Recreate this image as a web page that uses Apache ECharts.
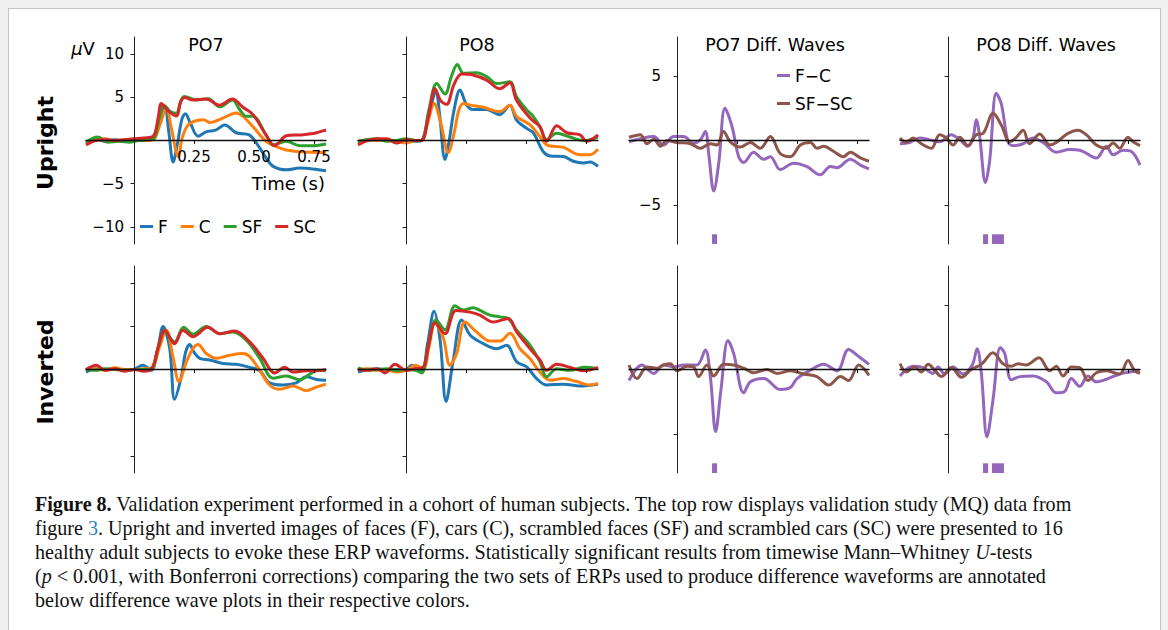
<!DOCTYPE html>
<html><head><meta charset="utf-8">
<script src="https://cdn.jsdelivr.net/npm/echarts@6/dist/echarts.min.js"></script>
<style>
html,body{margin:0;padding:0;background:#f0f0f0;}
body{width:1168px;height:630px;overflow:hidden;position:relative;}
#frame{position:absolute;left:8px;top:8px;width:1151px;height:640px;background:#fff;border:1px solid #c4c4c4;}
#chart{position:absolute;left:0;top:0;width:1168px;height:630px;}
</style></head><body>
<div id="frame"></div><div id="chart"></div>
<script>
// ---------- tick labels / names ----------
const TIME_TICKS = [0.25, 0.5, 0.75];
const ERP_TICKS = [-10, -5, 5, 10];
const DIFF_TICKS = [-5, 5];
const ERP_NAMES = ['F', 'C', 'SF', 'SC'];
const DIFF_NAMES = ['F−C', 'SF−SC'];
const PANEL_TITLES = ['PO7', 'PO8', 'PO7 Diff. Waves', 'PO8 Diff. Waves'];
const ROW_TITLES = ['Upright', 'Inverted'];

// ---------- data: [time (s), amplitude (µV)] ----------
// PO7 upright
const po7UpF = [[-0.2,-0.3],[-0.16,0.2],[-0.12,-0.1],[-0.08,0.1],[-0.04,-0.1],[0,0.1],[0.04,0],[0.08,0.2],[0.105,2.2],[0.128,4.0],[0.145,1.0],[0.163,-2.5],[0.18,-0.5],[0.2,2.5],[0.214,3.1],[0.235,2.0],[0.267,0.5],[0.3,1.0],[0.34,1.2],[0.378,1.8],[0.426,0.9],[0.48,0.65],[0.52,-0.7],[0.55,-2.0],[0.58,-3.0],[0.635,-3.4],[0.69,-3.2],[0.746,-3.3],[0.8,-3.5]];
const po7UpC = [[-0.2,-0.3],[-0.16,0.1],[-0.12,0.2],[-0.08,-0.1],[-0.04,0.1],[0,0],[0.04,0],[0.08,0.1],[0.11,2.0],[0.135,3.85],[0.155,1.5],[0.185,-1.85],[0.2,0.2],[0.22,1.6],[0.246,2.2],[0.29,2.4],[0.315,2.1],[0.37,2.6],[0.426,3.2],[0.454,2.8],[0.496,1.6],[0.55,-0.1],[0.593,-0.7],[0.635,-1.1],[0.69,-1.3],[0.8,-1.4]];
const po7UpSF = [[-0.2,-0.2],[-0.15,0.4],[-0.11,-0.2],[-0.06,-0.1],[-0.02,-0.2],[0.02,0],[0.06,0.1],[0.085,0.3],[0.105,2.5],[0.124,4.1],[0.15,3.4],[0.176,3.15],[0.195,4.6],[0.21,5.1],[0.26,4.7],[0.31,4.85],[0.357,3.9],[0.41,4.7],[0.44,3.6],[0.468,2.8],[0.496,2.8],[0.55,0.65],[0.58,-0.5],[0.635,-0.1],[0.69,-0.6],[0.746,-0.6],[0.8,-0.4]];
const po7UpSC = [[-0.2,-0.5],[-0.16,0],[-0.12,0.1],[-0.08,0],[-0.04,0.1],[0,0.2],[0.04,0.3],[0.08,0.5],[0.1,2.5],[0.114,4.3],[0.14,3.5],[0.176,2.85],[0.195,4.5],[0.21,5.0],[0.246,4.7],[0.3,4.8],[0.357,4.1],[0.41,4.8],[0.454,3.85],[0.496,3.0],[0.55,0.65],[0.586,-0.6],[0.635,0.55],[0.69,0.65],[0.746,0.8],[0.79,1.15],[0.8,1.2]];
// PO8 upright
const po8UpF = [[-0.2,-0.2],[-0.16,0.1],[-0.12,0],[-0.08,0.1],[-0.04,-0.1],[0,0],[0.04,-0.1],[0.065,0],[0.095,3.0],[0.125,5.65],[0.14,3.0],[0.1625,-2.2],[0.18,0],[0.2,3.5],[0.225,5.85],[0.253,4.1],[0.28,3.6],[0.336,3.6],[0.39,3.0],[0.433,4.1],[0.46,2.4],[0.503,1.4],[0.53,0.9],[0.572,-1.3],[0.6,-1.8],[0.656,-1.85],[0.697,-2.4],[0.74,-2.6],[0.767,-2.5],[0.8,-3.0]];
const po8UpC = [[-0.2,-0.1],[-0.16,0.1],[-0.12,0],[-0.08,0.1],[-0.04,-0.1],[0,-0.3],[0.04,0],[0.065,0],[0.09,2.0],[0.117,4.3],[0.145,2.0],[0.176,-1.4],[0.2,0.8],[0.22,3.5],[0.239,4.3],[0.267,4.1],[0.322,3.85],[0.39,3.35],[0.433,4.1],[0.46,2.8],[0.517,1.8],[0.558,0.45],[0.586,-0.5],[0.656,-0.8],[0.725,-1.65],[0.767,-1.65],[0.8,-1.0]];
const po8UpSF = [[-0.2,-0.1],[-0.16,0.1],[-0.12,0.2],[-0.08,-0.1],[-0.04,0],[0,0.2],[0.04,0],[0.065,0],[0.095,3.5],[0.128,6.6],[0.1625,5.4],[0.19,7.5],[0.214,8.8],[0.239,7.8],[0.294,7.85],[0.336,7.4],[0.378,6.6],[0.433,6.8],[0.46,5.1],[0.503,3.55],[0.53,2.8],[0.558,1.6],[0.586,0.1],[0.628,0.85],[0.683,0.4],[0.74,0],[0.8,0.4]];
const po8UpSC = [[-0.2,-0.5],[-0.16,0],[-0.12,0.2],[-0.08,0.2],[-0.04,-0.3],[0,0.1],[0.04,0],[0.065,0],[0.095,3.0],[0.121,6.0],[0.145,4.6],[0.169,4.2],[0.2,6.5],[0.232,7.7],[0.28,7.6],[0.336,7.0],[0.39,6.0],[0.433,6.7],[0.46,4.7],[0.517,2.6],[0.558,1.6],[0.586,-0.1],[0.628,1.7],[0.67,0.9],[0.725,0.65],[0.753,-0.1],[0.8,0.65]];
// difference waves upright
const po7UpFC = [[-0.2,-0.1],[-0.139,0.2],[-0.097,0.3],[-0.056,-0.35],[-0.014,0.3],[0.028,0.3],[0.069,-0.2],[0.097,0.05],[0.118,0.7],[0.132,-1.0],[0.153,-3.9],[0.174,-1.75],[0.2,2.5],[0.229,1.1],[0.257,-1.25],[0.278,-1.7],[0.319,-0.9],[0.361,-1.45],[0.389,-1.25],[0.43,-2.25],[0.486,-1.75],[0.54,-2.0],[0.597,-2.65],[0.639,-2.0],[0.667,-2.1],[0.722,-1.45],[0.764,-1.9],[0.8,-2.2]];
const po7UpSFSC = [[-0.2,0.25],[-0.153,0.45],[-0.125,-0.25],[-0.097,0.1],[-0.069,-0.45],[-0.042,0],[0,-0.15],[0.056,-0.25],[0.097,-0.6],[0.139,-0.25],[0.167,-0.35],[0.194,0.7],[0.222,-0.1],[0.264,-0.5],[0.306,-0.15],[0.347,-0.6],[0.389,0.3],[0.43,-1.0],[0.472,-1.25],[0.514,-0.35],[0.556,-0.15],[0.583,-0.6],[0.611,-0.45],[0.653,-0.85],[0.694,-1.25],[0.722,-0.9],[0.764,-1.35],[0.8,-1.6]];
const po8UpFC = [[-0.2,-0.25],[-0.16,-0.15],[-0.118,0.2],[-0.076,0.05],[-0.035,-0.1],[0.014,0.45],[0.049,0.05],[0.083,-0.45],[0.104,0.2],[0.118,1.6],[0.132,0.3],[0.156,-3.25],[0.174,-1.5],[0.201,3.65],[0.222,2.85],[0.25,-0.1],[0.271,-0.4],[0.313,-0.25],[0.354,0.2],[0.396,-0.15],[0.451,-0.9],[0.507,-0.7],[0.549,-0.75],[0.618,-1.35],[0.66,-0.45],[0.688,-1.1],[0.729,-0.75],[0.764,-0.85],[0.8,-1.9]];
const po8UpSFSC = [[-0.2,0.2],[-0.174,-0.15],[-0.146,0.2],[-0.111,-0.25],[-0.069,-0.6],[-0.035,0.45],[-0.007,0.2],[0.021,-0.35],[0.049,0.25],[0.083,-0.4],[0.118,0.45],[0.146,0.55],[0.188,2.1],[0.222,1.2],[0.257,-0.1],[0.285,0.25],[0.313,0.8],[0.34,-0.25],[0.382,0.5],[0.424,-0.35],[0.451,-0.15],[0.5,0.55],[0.542,0.8],[0.576,0.45],[0.618,-0.35],[0.66,-0.6],[0.688,-0.2],[0.715,-0.6],[0.75,0.25],[0.771,-0.1],[0.8,-0.4]];
// PO7 inverted
const po7InvF = [[-0.2,-0.3],[-0.16,0.1],[-0.12,0],[-0.08,0.1],[-0.04,-0.1],[0,0],[0.0375,0.5],[0.072,-0.1],[0.1,2.5],[0.121,5.0],[0.149,2.4],[0.169,-3.45],[0.197,-0.85],[0.215,2.0],[0.232,2.9],[0.25,2.0],[0.274,1.3],[0.315,1.1],[0.371,0.7],[0.426,0.6],[0.482,0.25],[0.524,-0.15],[0.565,-1.55],[0.621,-1.8],[0.676,-1.55],[0.718,-0.85],[0.76,-1.15],[0.8,-1.25]];
const po7InvC = [[-0.2,0],[-0.16,0.1],[-0.12,-0.1],[-0.08,0.2],[-0.04,0],[0,0],[0.04,0.1],[0.075,0.2],[0.105,2.5],[0.135,4.55],[0.1625,1.45],[0.1875,-1.4],[0.218,0.85],[0.245,2.4],[0.267,2.9],[0.301,1.85],[0.343,1.3],[0.399,1.65],[0.454,1.85],[0.482,1.5],[0.524,-0.1],[0.565,-1.8],[0.607,-2.3],[0.663,-1.9],[0.718,-2.45],[0.76,-2.05],[0.8,-1.7]];
const po7InvSF = [[-0.2,0],[-0.16,-0.1],[-0.12,0.1],[-0.08,0],[-0.04,-0.1],[0,0],[0.04,0],[0.075,0.2],[0.1,2.5],[0.128,4.35],[0.169,3.2],[0.207,4.9],[0.246,4.1],[0.301,5.0],[0.357,4.15],[0.4125,4.35],[0.468,3.4],[0.524,1.3],[0.579,-1.0],[0.635,-0.75],[0.69,-1.2],[0.732,-0.55],[0.767,-0.1],[0.8,-0.15]];
const po7InvSC = [[-0.2,0],[-0.157,0.5],[-0.12,-0.1],[-0.08,0.1],[-0.04,-0.2],[0,0],[0.04,-0.2],[0.075,0.1],[0.1,2.5],[0.128,4.55],[0.169,3.0],[0.204,4.55],[0.246,3.8],[0.308,4.9],[0.357,4.15],[0.419,4.45],[0.482,3.2],[0.5375,1.3],[0.586,-0.4],[0.628,0.25],[0.663,-0.3],[0.718,-0.15],[0.76,-0.15],[0.8,0]];
// PO8 inverted
const po8InvF = [[-0.2,-0.3],[-0.16,0],[-0.12,0.1],[-0.08,-0.1],[-0.04,0],[0,0],[0.024,0.5],[0.065,-0.1],[0.09,3.0],[0.117,6.75],[0.142,3.4],[0.167,-3.7],[0.197,1.1],[0.232,5.75],[0.267,4.0],[0.322,3.0],[0.378,2.4],[0.419,2.8],[0.461,0.9],[0.503,0.3],[0.544,-1.05],[0.586,-1.8],[0.656,-1.7],[0.725,-1.9],[0.8,-1.7]];
const po8InvC = [[-0.2,0],[-0.16,0.1],[-0.12,-0.1],[-0.08,0],[-0.04,-0.3],[0,-0.1],[0.0375,0.5],[0.072,0.1],[0.095,2.5],[0.121,5.4],[0.156,3.6],[0.183,0.5],[0.211,1.85],[0.246,5.5],[0.294,4.35],[0.35,3.3],[0.392,3.3],[0.433,4.2],[0.475,2.4],[0.517,1.25],[0.558,-0.3],[0.6,-1.25],[0.656,-1.05],[0.711,-1.4],[0.767,-1.8],[0.8,-1.6]];
const po8InvSF = [[-0.2,0.2],[-0.16,-0.1],[-0.12,0],[-0.08,0.1],[-0.04,-0.1],[0,0],[0.04,-0.1],[0.065,-0.4],[0.095,3.0],[0.125,5.75],[0.1625,4.6],[0.204,7.4],[0.239,6.9],[0.28,7.15],[0.308,6.85],[0.35,6.3],[0.392,6.1],[0.426,5.9],[0.461,4.55],[0.517,2.8],[0.558,0.9],[0.586,-0.85],[0.628,0.1],[0.683,-0.1],[0.74,0.25],[0.8,0.1]];
const po8InvSC = [[-0.2,0],[-0.16,-0.1],[-0.12,0.1],[-0.0875,-0.4],[-0.046,0.6],[0,-0.1],[0.04,0.1],[0.07,0.2],[0.095,3.0],[0.121,5.4],[0.1625,4.15],[0.208,6.85],[0.267,6.65],[0.308,6.3],[0.364,5.5],[0.426,5.9],[0.461,4.35],[0.517,2.4],[0.558,1.1],[0.586,-0.1],[0.628,0.6],[0.683,0.25],[0.74,-0.15],[0.8,0.25]];
// difference waves inverted
const po7InvFC = [[-0.2,-0.85],[-0.146,0.35],[-0.097,-0.3],[-0.056,0.35],[-0.014,0.2],[0.028,0.35],[0.083,0.35],[0.118,1.5],[0.139,-0.55],[0.161,-4.8],[0.183,-1.6],[0.2125,2.25],[0.236,1.25],[0.278,-1.8],[0.306,-0.95],[0.361,-0.7],[0.43,-1.55],[0.472,-1.4],[0.5,-0.7],[0.556,-0.05],[0.611,0.4],[0.667,-0.1],[0.715,1.55],[0.757,1.0],[0.8,0.4]];
const po7InvSFSC = [[-0.2,0.35],[-0.167,-0.7],[-0.125,0.2],[-0.083,0.1],[-0.056,0.35],[-0.028,0.45],[0,-0.1],[0.042,0.25],[0.069,0.2],[0.09,-0.55],[0.125,0.35],[0.153,-0.5],[0.194,0.4],[0.236,0.35],[0.278,0.1],[0.319,-0.25],[0.375,0],[0.417,-0.3],[0.472,-0.1],[0.528,-0.35],[0.583,-0.55],[0.632,-1.2],[0.681,-0.55],[0.715,-0.85],[0.757,0.35],[0.8,-0.45]];
const po8InvFC = [[-0.2,-0.5],[-0.146,0.25],[-0.104,0.15],[-0.0625,-0.3],[-0.042,0.2],[-0.014,-0.35],[0.021,0.2],[0.0625,-0.35],[0.101,0.35],[0.121,1.6],[0.139,-0.3],[0.1625,-5.2],[0.1875,-2.35],[0.218,1.7],[0.236,1.25],[0.264,-0.8],[0.299,-0.55],[0.354,-0.5],[0.41,-0.95],[0.451,-1.8],[0.486,-1.7],[0.514,-0.7],[0.549,-1.3],[0.583,-0.5],[0.618,-0.95],[0.667,-0.7],[0.715,-0.35],[0.757,-0.2],[0.8,-0.1]];
const po8InvSFSC = [[-0.2,0.45],[-0.174,-0.2],[-0.139,0.2],[-0.111,-0.2],[-0.083,0.4],[-0.049,-0.2],[-0.028,-0.55],[0.014,0.15],[0.056,-0.6],[0.097,0],[0.139,0.4],[0.1875,1.3],[0.229,0.45],[0.264,0.25],[0.292,0.45],[0.326,0.35],[0.379,0.9],[0.424,-0.1],[0.451,0.25],[0.479,-0.5],[0.514,0.2],[0.549,0.15],[0.583,-0.85],[0.618,-0.25],[0.66,-0.1],[0.715,-0.35],[0.75,0.7],[0.778,-0.1],[0.8,-0.3]];
// significant time windows (s) from Mann–Whitney U-tests
const sigUpPO7 = [[0.146, 0.167]];
const sigUpPO8 = [[0.146, 0.167], [0.183, 0.233]];
const sigInvPO7 = [[0.146, 0.167]];
const sigInvPO8 = [[0.146, 0.167], [0.183, 0.233]];

// ---------- styling / layout ----------
const COLORS = {'F':'#1f77b4','C':'#ff7f0e','SF':'#2ca02c','SC':'#d62728','F−C':'#9467bd','SF−SC':'#8c564b'};
const GRID_LEFT = [86, 358, 629, 900];
const GRID_TOP = [37, 266];
const GRID_W = 240, GRID_H = 207;
const X_RANGE = [-0.2, 0.8];
const SIG_BAND = [-8, -7.25];
const FONT = 'DejaVu Sans';

const panels = [
  {row:0,col:0,kind:'erp',lines:[po7UpF,po7UpC,po7UpSF,po7UpSC],yLabels:true,xLabels:true},
  {row:0,col:1,kind:'erp',lines:[po8UpF,po8UpC,po8UpSF,po8UpSC]},
  {row:0,col:2,kind:'diff',lines:[po7UpFC,po7UpSFSC],sig:sigUpPO7,yLabels:true},
  {row:0,col:3,kind:'diff',lines:[po8UpFC,po8UpSFSC],sig:sigUpPO8},
  {row:1,col:0,kind:'erp',lines:[po7InvF,po7InvC,po7InvSF,po7InvSC]},
  {row:1,col:1,kind:'erp',lines:[po8InvF,po8InvC,po8InvSF,po8InvSC]},
  {row:1,col:2,kind:'diff',lines:[po7InvFC,po7InvSFSC],sig:sigInvPO7},
  {row:1,col:3,kind:'diff',lines:[po8InvFC,po8InvSFSC],sig:sigInvPO8}
];

const grid = [], xAxis = [], yAxis = [], series = [];
panels.forEach((p, i) => {
  grid.push({left: GRID_LEFT[p.col], top: GRID_TOP[p.row], width: GRID_W, height: GRID_H});
  const isErp = p.kind === 'erp';
  const yTicks = isErp ? ERP_TICKS : DIFF_TICKS;
  const yMin = isErp ? -12 : -8, yMax = isErp ? 12 : 8;
  // spines drawn through the origin (matplotlib "zero" spines)
  const xOffset = -GRID_H * (0 - yMin) / (yMax - yMin);
  const yOffset = -GRID_W * (0 - X_RANGE[0]) / (X_RANGE[1] - X_RANGE[0]);
  xAxis.push({
    gridIndex: i, type: 'value', min: X_RANGE[0], max: X_RANGE[1], z: 10,
    position: 'bottom', offset: xOffset,
    axisLine: {onZero: false, lineStyle: {color: '#111', width: 1.4}},
    axisTick: {show: true, customValues: TIME_TICKS, length: 3.5, lineStyle: {color: '#111', width: 1}},
    axisLabel: {show: !!p.xLabels, customValues: TIME_TICKS, formatter: v => v.toFixed(2),
      fontFamily: FONT, fontSize: 15, color: '#000', margin: 9},
    splitLine: {show: false}
  });
  yAxis.push({
    gridIndex: i, type: 'value', min: yMin, max: yMax, z: 9,
    position: 'left', offset: yOffset,
    axisLine: {show: true, onZero: false, lineStyle: {color: '#222', width: 1}},
    axisTick: {show: true, customValues: yTicks, length: 3.5, lineStyle: {color: '#222', width: 1}},
    axisLabel: {show: !!p.yLabels, customValues: yTicks, formatter: v => String(v).replace('-', '−'),
      fontFamily: FONT, fontSize: 15, color: '#000', margin: isErp ? 10 : 16},
    splitLine: {show: false}
  });
  const names = isErp ? ERP_NAMES : DIFF_NAMES;
  p.lines.forEach((d, k) => {
    const s = {
      type: 'line', name: names[k], xAxisIndex: i, yAxisIndex: i, data: d,
      showSymbol: false, smooth: 0.35, silent: true, animation: false,
      lineStyle: {color: COLORS[names[k]], width: 3},
      itemStyle: {color: COLORS[names[k]]}
    };
    if (k === 0 && p.sig) {
      s.markArea = {
        silent: true,
        itemStyle: {color: COLORS['F−C'], opacity: 1},
        data: p.sig.map(([a, b]) => [{xAxis: a, yAxis: SIG_BAND[0]}, {xAxis: b, yAxis: SIG_BAND[1]}])
      };
    }
    series.push(s);
  });
});

const captionLines = [
  '{b|Figure 8.} Validation experiment performed in a cohort of human subjects. The top row displays validation study (MQ) data from',
  'figure {l|3}. Upright and inverted images of faces (F), cars (C), scrambled faces (SF) and scrambled cars (SC) were presented to 16',
  'healthy adult subjects to evoke these ERP waveforms. Statistically significant results from timewise Mann–Whitney {i|U}-tests',
  '({i|p} < 0.001, with Bonferroni corrections) comparing the two sets of ERPs used to produce difference waveforms are annotated',
  'below difference wave plots in their respective colors.'
];
const CAP_SIZE = 20.1;

const graphic = [];
PANEL_TITLES.forEach((t, c) => {
  const cx = [206, 477, 775, 1046][c];
  graphic.push({type: 'text', x: cx, y: 45, style: {text: t, fontFamily: FONT, fontSize: 17.5, fill: '#000', align: 'center', verticalAlign: 'middle'}});
});
ROW_TITLES.forEach((t, r) => {
  graphic.push({type: 'text', x: 45, y: [143, 372][r], rotation: Math.PI / 2,
    style: {text: t, fontFamily: FONT, fontSize: 22, fontWeight: 'bold', fill: '#000', align: 'center', verticalAlign: 'middle'}});
});
graphic.push({type: 'text', x: 83, y: 48, style: {text: '{m|μ}V', fontFamily: FONT, fontSize: 18, fill: '#000', align: 'center', verticalAlign: 'middle',
  rich: {m: {fontStyle: 'italic', fontFamily: FONT, fontSize: 18}}}});
graphic.push({type: 'text', x: 325, y: 183, style: {text: 'Time (s)', fontFamily: FONT, fontSize: 18, fill: '#000', align: 'right', verticalAlign: 'middle'}});
captionLines.forEach((t, j) => {
  graphic.push({type: 'text', x: 35, y: 503.5 + 24 * j, style: {
    text: t, fontFamily: 'Liberation Serif', fontSize: CAP_SIZE, fill: '#111', align: 'left', verticalAlign: 'middle',
    rich: {
      b: {fontWeight: 'bold', fontFamily: 'Liberation Serif', fontSize: CAP_SIZE, fill: '#111'},
      l: {fontFamily: 'Liberation Serif', fontSize: CAP_SIZE, fill: '#2f80c0'},
      i: {fontStyle: 'italic', fontFamily: 'Liberation Serif', fontSize: CAP_SIZE, fill: '#111'}
    }}});
});

const option = {
  backgroundColor: 'transparent',
  animation: false,
  grid, xAxis, yAxis, series, graphic,
  legend: [
    {data: ERP_NAMES, left: 140, top: 218, orient: 'horizontal', icon: 'rect', itemWidth: 13, itemHeight: 3,
     itemGap: 13, padding: 0, selectedMode: false, textStyle: {fontFamily: FONT, fontSize: 17, color: '#000'}},
    {data: DIFF_NAMES, left: 777, top: 67, orient: 'vertical', icon: 'rect', itemWidth: 13, itemHeight: 3,
     itemGap: 11, padding: 0, selectedMode: false, textStyle: {fontFamily: FONT, fontSize: 17, color: '#000'}}
  ]
};
const chart = echarts.init(document.getElementById('chart'), null, {renderer: 'svg'});
chart.setOption(option);
</script></body></html>
